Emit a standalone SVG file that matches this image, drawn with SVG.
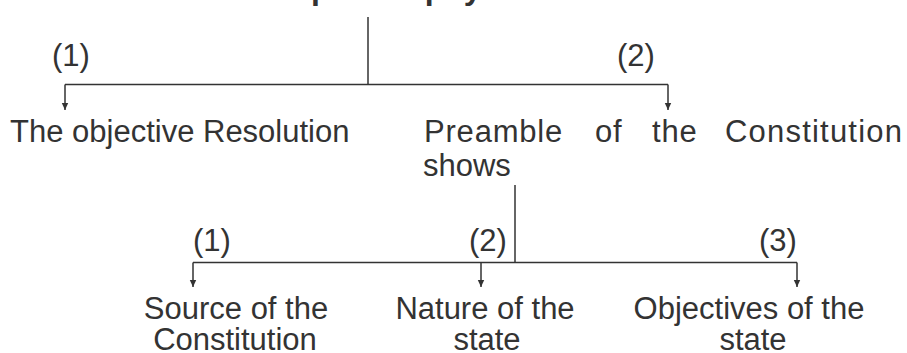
<svg xmlns="http://www.w3.org/2000/svg" width="907" height="353" viewBox="0 0 907 353">
<style>
  text { font-family: "Liberation Sans", Arial, sans-serif; font-size: 31px; fill: #333333; }
  .title { font-weight: bold; font-size: 32px; }
  .c { text-anchor: middle; }
  .ln { fill: none; stroke: #333333; stroke-width: 1.5; }
  .ar { marker-end: url(#arr); }
</style>
<defs>
  <marker id="arr" markerUnits="userSpaceOnUse" markerWidth="8" markerHeight="8" viewBox="0 0 8 8" refX="7" refY="4" orient="auto">
    <path d="M0,0.8 L7,4 L0,7.2 z" fill="#333333"/>
  </marker>
</defs>
<rect width="907" height="353" fill="#ffffff"/>
<g id="title">
  <text class="title" x="311" y="-1.5">philosophy</text>
</g>
<g id="connectors">
  <path class="ln" d="M368,17 V84.5"/>
  <path class="ln" d="M65,84.5 H668"/>
  <path class="ln ar" d="M65,84.5 V110"/>
  <path class="ln ar" d="M668,84.5 V110"/>
  <path class="ln" d="M515,185 V262.5"/>
  <path class="ln" d="M193,262.5 H797"/>
  <path class="ln ar" d="M193,262.5 V287"/>
  <path class="ln ar" d="M481,262.5 V287"/>
  <path class="ln ar" d="M797,262.5 V287"/>
</g>
<g id="labels">
  <text x="52" y="66">(1)</text>
  <text x="617" y="66">(2)</text>
  <text x="193" y="251">(1)</text>
  <text x="469" y="251">(2)</text>
  <text x="759" y="251">(3)</text>
</g>
<g id="node-objective-resolution">
  <text x="10" y="142">The objective Resolution</text>
</g>
<g id="node-preamble">
  <text y="142" letter-spacing="0.8"><tspan x="424">Preamble</tspan><tspan x="595">of</tspan><tspan x="652">the</tspan><tspan x="725" letter-spacing="1.2">Constitution</tspan></text>
  <text x="423" y="176">shows</text>
</g>
<g id="node-source">
  <text class="c" x="236" y="319">Source of the</text>
  <text class="c" x="235" y="350">Constitution</text>
</g>
<g id="node-nature">
  <text class="c" x="485" y="319">Nature of the</text>
  <text class="c" x="487" y="350">state</text>
</g>
<g id="node-objectives">
  <text class="c" x="749" y="319">Objectives of the</text>
  <text class="c" x="753" y="350">state</text>
</g>
</svg>
